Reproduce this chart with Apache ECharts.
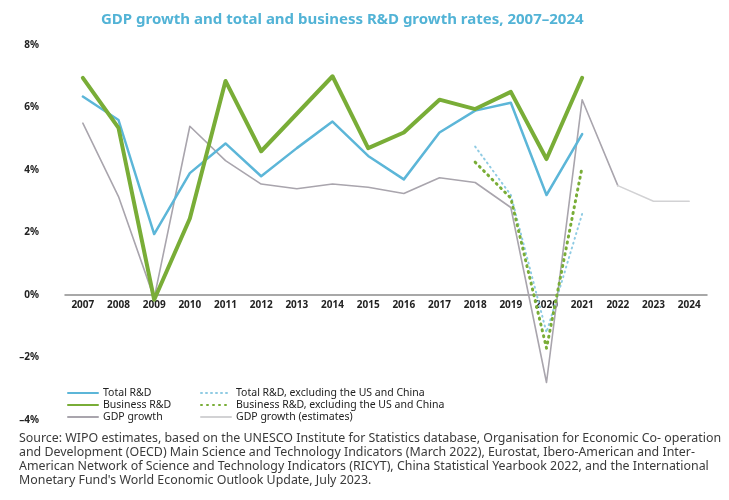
<!DOCTYPE html>
<html>
<head>
<meta charset="utf-8">
<script src="https://cdn.jsdelivr.net/npm/echarts@6/dist/echarts.min.js"></script>
<style>
  html, body { margin: 0; padding: 0; background: #ffffff; }
  #chart { width: 729px; height: 500px; }
</style>
</head>
<body>
<div id="chart"></div>
<script>
// Years on the category axis
const years = ['2007','2008','2009','2010','2011','2012','2013','2014','2015',
               '2016','2017','2018','2019','2020','2021','2022','2023','2024'];

// Growth rates, % per year (null = no value for that year)
const totalRD = [6.35, 5.6, 1.95, 3.9, 4.85, 3.8, 4.7, 5.55, 4.45,
                 3.7, 5.2, 5.9, 6.15, 3.2, 5.15, null, null, null];
const businessRD = [6.95, 5.35, -0.15, 2.45, 6.85, 4.6, 5.8, 7.0, 4.7,
                    5.2, 6.25, 5.95, 6.5, 4.35, 6.95, null, null, null];
const gdpGrowth = [5.5, 3.15, -0.1, 5.4, 4.3, 3.55, 3.4, 3.55, 3.45,
                   3.25, 3.75, 3.6, 2.8, -2.8, 6.25, 3.5, null, null];
const gdpEstimates = [null, null, null, null, null, null, null, null, null,
                      null, null, null, null, null, null, 3.5, 3.0, 3.0];
const totalRDexUSCN = [null, null, null, null, null, null, null, null, null,
                       null, null, 4.75, 3.2, -1.2, 2.6, null, null, null];
const businessRDexUSCN = [null, null, null, null, null, null, null, null, null,
                          null, null, 4.25, 3.1, -1.7, 4.1, null, null, null];

// Value-axis ticks
const yMin = -4, yMax = 8, yStep = 2;

const sourceLines = [
  'Source: WIPO estimates, based on the UNESCO Institute for Statistics database, Organisation for Economic Co- operation',
  'and Development (OECD) Main Science and Technology Indicators (March 2022), Eurostat, Ibero-American and Inter-',
  'American Network of Science and Technology Indicators (RICYT), China Statistical Yearbook 2022, and the International',
  "Monetary Fund's World Economic Outlook Update, July 2023."
];

const FONT = '"Noto Sans", "Liberation Sans", sans-serif';
const BLUE = '#5cb6d8';
const GREEN = '#79ad37';
const GREY = '#a9a5ad';
const GREY_LIGHT = '#d2d2d4';

// Plot area
const GRID = { left: 65, right: 22, top: 45, bottom: 80 };
const plotHeight = 500 - GRID.top - GRID.bottom;
// Lift the category axis (line and labels) up to the 0% level
const zeroOffset = -plotHeight * (0 - yMin) / (yMax - yMin);

const chart = echarts.init(document.getElementById('chart'), null, { renderer: 'canvas' });

function lineSeries(name, data, color, width, type, z) {
  return {
    name: name,
    type: 'line',
    data: data,
    symbol: 'none',
    showSymbol: false,
    connectNulls: false,
    z: z,
    lineStyle: { color: color, width: width, type: type, cap: 'round', join: 'round' },
    itemStyle: { color: color },
    emphasis: { disabled: true },
    animation: false
  };
}

const legendCommon = {
  orient: 'vertical', top: 382, itemGap: 0,
  itemWidth: 30, itemHeight: 12,
  itemStyle: { opacity: 0 },
  textStyle: { color: '#222', fontSize: 10.5, fontFamily: FONT, lineHeight: 12 },
  selectedMode: false
};

const option = {
  backgroundColor: '#ffffff',
  animation: false,
  title: {
    text: 'GDP growth and total and business R&D growth rates, 2007–2024',
    left: 96,
    top: 7,
    textStyle: { color: '#52b3d6', fontSize: 15, fontWeight: 'bold', fontFamily: FONT }
  },
  grid: Object.assign({ containLabel: false }, GRID),
  xAxis: {
    type: 'category',
    data: years,
    boundaryGap: true,
    position: 'bottom',
    offset: zeroOffset,
    axisLine: { onZero: false, lineStyle: { color: '#8c8c8c', width: 1.5 } },
    axisTick: { show: false },
    axisLabel: { color: '#222', fontSize: 10, fontFamily: FONT, fontWeight: 'bold', margin: 5 },
    splitLine: { show: false }
  },
  yAxis: {
    type: 'value',
    min: yMin,
    max: yMax,
    interval: yStep,
    axisLine: { show: false },
    axisTick: { show: false },
    splitLine: { show: false },
    axisLabel: {
      color: '#222', fontSize: 10, fontFamily: FONT, fontWeight: 'bold', margin: 26,
      formatter: v => (v < 0 ? '–' + Math.abs(v) : v) + '%'
    }
  },
  legend: [
    Object.assign({}, legendCommon, {
      left: 62,
      data: ['Total R&D', 'Business R&D', 'GDP growth']
    }),
    Object.assign({}, legendCommon, {
      left: 195,
      data: ['Total R&D, excluding the US and China', 'Business R&D, excluding the US and China', 'GDP growth (estimates)']
    })
  ],
  graphic: sourceLines.map((t, i) => ({
    type: 'text',
    left: 19,
    top: 432 + i * 14,
    silent: true,
    style: { text: t, fill: '#3a3a3a', font: '12.4px ' + FONT }
  })),
  series: [
    lineSeries('GDP growth', gdpGrowth, GREY, 1.6, 'solid', 2),
    lineSeries('GDP growth (estimates)', gdpEstimates, GREY_LIGHT, 1.6, 'solid', 2),
    lineSeries('Total R&D, excluding the US and China', totalRDexUSCN, '#8fcbe3', 2, [1, 4], 3),
    lineSeries('Business R&D, excluding the US and China', businessRDexUSCN, GREEN, 3, [1, 5], 3),
    lineSeries('Total R&D', totalRD, BLUE, 2.5, 'solid', 4),
    lineSeries('Business R&D', businessRD, GREEN, 4, 'solid', 5)
  ]
};

chart.setOption(option);
</script>
</body>
</html>
